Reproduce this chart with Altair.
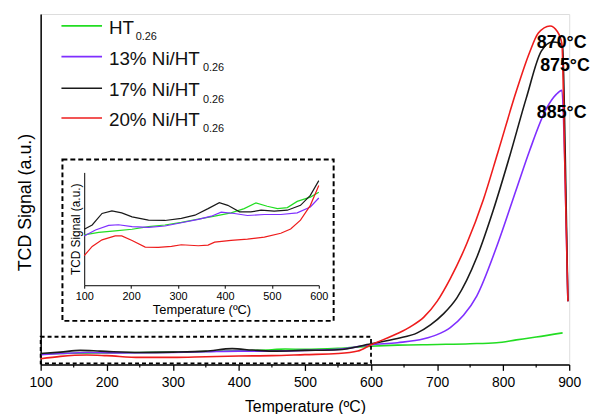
import altair as alt
import pandas as pd

# ---------------- main chart data ----------------
series_names = ["HT0.26", "13% Ni/HT0.26", "17% Ni/HT0.26", "20% Ni/HT0.26"]
series_colors = ["#22dd22", "#7f2fff", "#1a1a1a", "#ee1c1c"]

green_x = [100, 150, 200, 250, 300, 350, 400, 450, 470, 500, 550, 600, 640, 700, 750, 790, 820, 850, 890]
green_y = [3.0, 3.2, 3.3, 3.4, 3.5, 3.7, 3.9, 4.2, 4.4, 4.3, 4.6, 5.2, 5.5, 5.7, 5.9, 6.2, 7.0, 7.8, 9.0]

purple_x = [100, 130, 170, 220, 300, 350, 400, 450, 500, 550, 600, 640, 680, 700, 720, 740, 760, 790, 820, 840, 866, 880, 889, 893, 898]
purple_y = [2.8, 3.1, 3.4, 3.3, 3.4, 3.6, 3.8, 3.8, 4.0, 4.3, 5.6, 6.2, 7.3, 8.5, 10.5, 14.0, 19.5, 33.5, 50, 61, 73.2, 77, 78.2, 60, 18]

black_x = [100, 130, 160, 190, 250, 300, 350, 390, 420, 450, 500, 550, 600, 640, 670, 690, 710, 730, 760, 785, 810, 835, 858, 875, 884, 890, 894, 898]
black_y = [3.1, 3.5, 4.0, 3.8, 3.4, 3.5, 3.8, 4.5, 4.1, 3.8, 4.0, 4.2, 5.9, 7.4, 9.0, 11.3, 14.5, 19.0, 30.5, 44, 59.5, 76, 89.5, 92, 91.8, 90.5, 60, 18]

red_x = [100, 130, 170, 200, 250, 300, 350, 400, 450, 500, 550, 580, 600, 640, 660, 680, 700, 720, 745, 770, 792, 820, 840, 853, 871, 882, 889, 893, 898]
red_y = [1.6, 2.3, 2.7, 2.5, 2.0, 2.0, 2.2, 2.4, 2.5, 2.8, 3.1, 3.8, 5.6, 8.8, 10.8, 13.5, 18.0, 24.5, 34.5, 47, 60.5, 78, 89, 94.5, 96.6, 95, 91.5, 60, 18]

# ---------------- inset data ----------------
in_green_x = [100, 131, 166, 202, 237, 272, 307, 343, 378, 413, 441, 466, 490, 512, 533, 554, 582, 600]
in_green_y = [44.6, 46.9, 48.1, 49.6, 51.9, 53.4, 55.7, 58.6, 61.2, 64.1, 67.9, 72.9, 70.0, 67.9, 68.8, 74.3, 78.1, 82.5]

in_purple_x = [100, 124, 152, 173, 202, 237, 272, 307, 343, 371, 392, 420, 448, 484, 519, 554, 582, 600]
in_purple_y = [43.7, 49.0, 53.1, 53.6, 51.9, 51.3, 52.5, 55.4, 58.3, 61.2, 64.7, 63.6, 61.8, 62.7, 62.7, 64.1, 69.4, 77.3]

in_black_x = [100, 117, 138, 159, 180, 202, 237, 272, 307, 336, 364, 388, 406, 431, 455, 477, 505, 533, 561, 582, 600]
in_black_y = [49.6, 53.4, 63.6, 65.9, 64.1, 60.6, 57.7, 57.4, 59.2, 62.1, 67.9, 73.2, 70.8, 65.0, 65.0, 66.5, 65.6, 66.5, 70.8, 79.6, 92.7]

in_red_x = [100, 117, 138, 166, 180, 202, 230, 258, 286, 307, 343, 364, 378, 413, 448, 484, 519, 540, 561, 582, 600]
in_red_y = [26.2, 34.4, 40.2, 43.7, 43.7, 39.7, 33.8, 33.5, 34.4, 35.9, 35.0, 35.6, 38.2, 39.7, 40.8, 42.6, 46.1, 49.9, 57.7, 70.8, 88.3]

# peak annotations
peak_labels = ["870°C", "875°C", "885°C"]
peak_x = [851, 856, 851]
peak_y = [90.2, 83.6, 70.4]

# minor ticks on the main x axis
minor_ticks = [150, 250, 350, 450, 550, 650, 750, 850]

# legend texts
legend_main = ["HT", "13% Ni/HT", "17% Ni/HT", "20% Ni/HT"]
legend_sub = ["0.26", "0.26", "0.26", "0.26"]


def build(xs_list, ys_list):
    rows = []
    for order, (name, xs, ys) in enumerate(zip(series_names, xs_list, ys_list)):
        for i, (x, y) in enumerate(zip(xs, ys)):
            rows.append({"series": name, "order": order, "i": i, "T": x, "S": y})
    return pd.DataFrame(rows)


main_df = build([green_x, purple_x, black_x, red_x], [green_y, purple_y, black_y, red_y])
inset_df = build([in_green_x, in_purple_x, in_black_x, in_red_x], [in_green_y, in_purple_y, in_black_y, in_red_y])

color_scale = alt.Scale(domain=series_names, range=series_colors)

W, H = 534, 354

# ---------------- main layer ----------------
x_main = alt.X("T:Q", scale=alt.Scale(domain=[100, 900], nice=False, zero=False),
               axis=alt.Axis(values=list(range(100, 901, 100)), format="d", grid=False,
                             labelFontSize=14, labelPadding=5, labelFlush=False,
                             tickSize=6, tickWidth=1.3, tickColor="black",
                             domainColor="black", domainWidth=1.5,
                             title="Temperature (ºC)", titleFontSize=16,
                             titleFontWeight="normal", titlePadding=10))
y_main = alt.Y("S:Q", scale=alt.Scale(domain=[0, 100], nice=False, zero=False),
               axis=alt.Axis(labels=False, ticks=False, grid=False,
                             domainColor="black", domainWidth=1.5,
                             title="TCD Signal (a.u.)", titleFontSize=18,
                             titleFontWeight="normal", titlePadding=6, titleY=190))

main_lines = alt.Chart(main_df).mark_line(strokeWidth=1.6, interpolate="monotone").encode(
    x=x_main, y=y_main,
    color=alt.Color("series:N", scale=color_scale, legend=None),
    detail="series:N",
    order="i:Q",
)

box_df = pd.DataFrame({"T": [100], "T2": [600], "S": [0.3], "S2": [7.9]})
main_box = alt.Chart(box_df).mark_rect(fillOpacity=0, stroke="black", strokeWidth=1.8,
                                       strokeDash=[4, 3]).encode(
    x="T:Q", x2="T2:Q", y="S:Q", y2="S2:Q")

minor_df = pd.DataFrame({"T": minor_ticks})
minor = alt.Chart(minor_df).mark_rule(color="black", strokeWidth=1.2).encode(
    x="T:Q", y=alt.value(H), y2=alt.value(H + 3))

peaks_df = pd.DataFrame({"T": peak_x, "S": peak_y, "label": peak_labels})
peaks = alt.Chart(peaks_df).mark_text(align="left", baseline="alphabetic", fontSize=18,
                                      fontWeight="bold", color="black").encode(
    x="T:Q", y="S:Q", text="label:N")

main_layer = alt.layer(main_lines, main_box, minor, peaks)

# ---------------- inset layer ----------------
inset_lines = alt.Chart(inset_df).mark_line(strokeWidth=1.2).encode(
    x=alt.X("T:Q", scale=alt.Scale(domain=[100, 600], range=[44, 281], nice=False, zero=False),
            axis=alt.Axis(orient="bottom", offset=-80, values=list(range(100, 601, 100)),
                          format="d", grid=False, labelFontSize=11, labelPadding=2,
                          labelFlush=False, tickSize=3, tickColor="black",
                          domainColor="black", domainWidth=1,
                          title="Temperature (ºC)", titleFontSize=13,
                          titleFontWeight="normal", titlePadding=3)),
    y=alt.Y("S:Q", scale=alt.Scale(domain=[0, 100], range=[274, 160], nice=False, zero=False),
            axis=alt.Axis(orient="left", offset=-44, labels=False, ticks=False, grid=False,
                          domainColor="black", domainWidth=1,
                          title="TCD Signal (a.u.)", titleFontSize=12,
                          titleFontWeight="normal", titlePadding=2)),
    color=alt.Color("series:N", scale=color_scale, legend=None),
    detail="series:N",
    order="i:Q",
)

one = pd.DataFrame({"k": [0]})
inset_box = alt.Chart(one).mark_rect(fillOpacity=0, stroke="black", strokeWidth=2,
                                     strokeDash=[5, 3]).encode(
    x=alt.value(22), x2=alt.value(296), y=alt.value(147), y2=alt.value(310))

# ---------------- legend ----------------
leg_rows_y = [12, 43, 75, 105]
leg_df = pd.DataFrame({"series": series_names, "main": legend_main, "sub": legend_sub,
                       "ly": leg_rows_y,
                       "ty": [r + 8 for r in leg_rows_y],
                       "sy": [r + 14.5 for r in leg_rows_y],
                       "sx": [96, 164, 164, 164]})
leg_lines = alt.Chart(leg_df).mark_rule(strokeWidth=1.6).encode(
    x=alt.value(21), x2=alt.value(62), y=alt.Y("ly:Q", scale=None),
    color=alt.Color("series:N", scale=color_scale, legend=None))
leg_text = alt.Chart(leg_df).mark_text(align="left", baseline="alphabetic", fontSize=19,
                                       color="#111").encode(
    x=alt.value(69), y=alt.Y("ty:Q", scale=None), text="main:N")
leg_sub = alt.Chart(leg_df).mark_text(align="left", baseline="alphabetic", fontSize=11,
                                      color="#111").encode(
    x=alt.X("sx:Q", scale=None), y=alt.Y("sy:Q", scale=None), text="sub:N")

chart = alt.layer(main_layer, inset_lines, inset_box, leg_lines, leg_text, leg_sub).resolve_scale(
    x="independent", y="independent", color="shared"
).properties(
    width=W, height=H,
    autosize=alt.AutoSizeParams(type="none"),
    padding={"left": 33, "top": 4, "right": 21, "bottom": 48},
    background="white",
).configure_view(strokeWidth=0).configure(font="Liberation Sans")

chart.save("out.html", embed_options={"renderer": "svg", "actions": False})
